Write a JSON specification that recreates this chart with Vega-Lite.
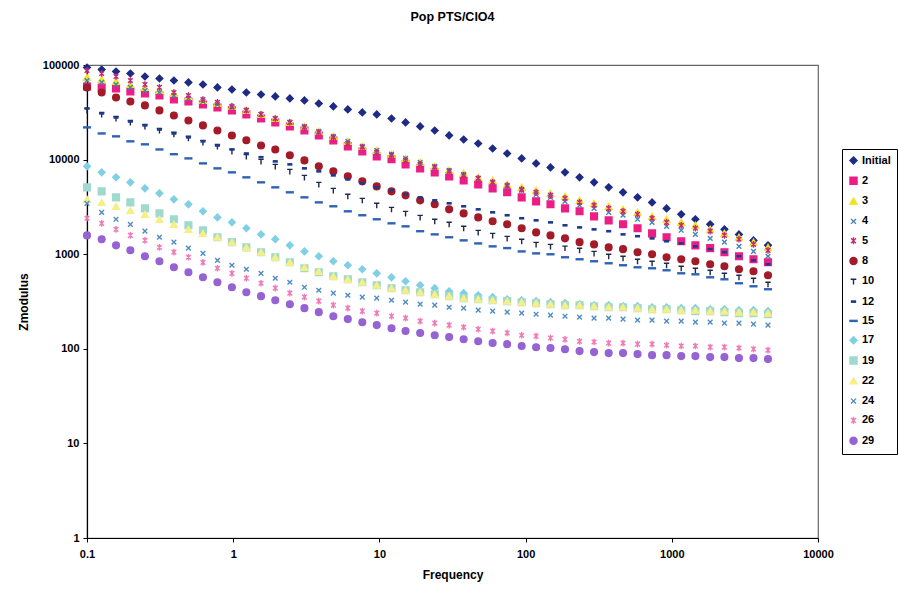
{
"$schema": "https://vega.github.io/schema/vega-lite/v6.json",
"width": 731, "height": 473,
"autosize": "none",
"padding": {"left": 87, "top": 65, "right": 80, "bottom": 54},
"background": "white",
"title": {"text": "Pop PTS/ClO4", "font": "Liberation Sans", "fontSize": 12.5, "fontWeight": "bold", "color": "black", "anchor": "middle", "offset": 36},
"datasets": {"pts": [
{"f":0.1,"s":"Initial","z":94100},{"f":0.126,"s":"Initial","z":89600},{"f":0.158,"s":"Initial","z":85400},{"f":0.198,"s":"Initial","z":81300},{"f":0.249,"s":"Initial","z":75600},{"f":0.313,"s":"Initial","z":72000},{"f":0.393,"s":"Initial","z":68600},{"f":0.494,"s":"Initial","z":65400},{"f":0.621,"s":"Initial","z":62200},{"f":0.78,"s":"Initial","z":57900},{"f":0.98,"s":"Initial","z":55100},{"f":1.23,"s":"Initial","z":51200},{"f":1.55,"s":"Initial","z":48800},{"f":1.94,"s":"Initial","z":46500},{"f":2.44,"s":"Initial","z":44300},{"f":3.07,"s":"Initial","z":42200},{"f":3.85,"s":"Initial","z":39200},{"f":4.84,"s":"Initial","z":36500},{"f":6.08,"s":"Initial","z":33900},{"f":7.64,"s":"Initial","z":31500},{"f":9.59,"s":"Initial","z":30000},{"f":12.1,"s":"Initial","z":27200},{"f":15.1,"s":"Initial","z":24700},{"f":19,"s":"Initial","z":22400},{"f":23.9,"s":"Initial","z":20300},{"f":30,"s":"Initial","z":18000},{"f":37.7,"s":"Initial","z":16300},{"f":47.4,"s":"Initial","z":14800},{"f":59.5,"s":"Initial","z":13100},{"f":74.8,"s":"Initial","z":11600},{"f":94,"s":"Initial","z":10300},{"f":118,"s":"Initial","z":9120},{"f":148,"s":"Initial","z":8270},{"f":186,"s":"Initial","z":7330},{"f":234,"s":"Initial","z":6490},{"f":294,"s":"Initial","z":5750},{"f":370,"s":"Initial","z":5090},{"f":464,"s":"Initial","z":4510},{"f":583,"s":"Initial","z":3990},{"f":733,"s":"Initial","z":3530},{"f":921,"s":"Initial","z":3050},{"f":1160,"s":"Initial","z":2640},{"f":1450,"s":"Initial","z":2340},{"f":1830,"s":"Initial","z":2070},{"f":2290,"s":"Initial","z":1830},{"f":2880,"s":"Initial","z":1620},{"f":3620,"s":"Initial","z":1400},{"f":4550,"s":"Initial","z":1240},
{"f":0.1,"s":"2","z":59300},{"f":0.126,"s":"2","z":57900},{"f":0.158,"s":"2","z":56500},{"f":0.198,"s":"2","z":52500},{"f":0.249,"s":"2","z":50000},{"f":0.313,"s":"2","z":47600},{"f":0.393,"s":"2","z":43200},{"f":0.494,"s":"2","z":41200},{"f":0.621,"s":"2","z":38300},{"f":0.78,"s":"2","z":35600},{"f":0.98,"s":"2","z":33100},{"f":1.23,"s":"2","z":30000},{"f":1.55,"s":"2","z":27200},{"f":1.94,"s":"2","z":24700},{"f":2.44,"s":"2","z":22400},{"f":3.07,"s":"2","z":20300},{"f":3.85,"s":"2","z":18000},{"f":4.84,"s":"2","z":15900},{"f":6.08,"s":"2","z":13800},{"f":7.64,"s":"2","z":12200},{"f":9.59,"s":"2","z":10800},{"f":12.1,"s":"2","z":10100},{"f":15.1,"s":"2","z":8900},{"f":19,"s":"2","z":8080},{"f":23.9,"s":"2","z":7330},{"f":30,"s":"2","z":6650},{"f":37.7,"s":"2","z":6030},{"f":47.4,"s":"2","z":5470},{"f":59.5,"s":"2","z":4970},{"f":74.8,"s":"2","z":4510},{"f":94,"s":"2","z":3990},{"f":118,"s":"2","z":3620},{"f":148,"s":"2","z":3370},{"f":186,"s":"2","z":3050},{"f":234,"s":"2","z":2840},{"f":294,"s":"2","z":2510},{"f":370,"s":"2","z":2280},{"f":464,"s":"2","z":2070},{"f":583,"s":"2","z":1880},{"f":733,"s":"2","z":1660},{"f":921,"s":"2","z":1510},{"f":1160,"s":"2","z":1370},{"f":1450,"s":"2","z":1240},{"f":1830,"s":"2","z":1160},{"f":2290,"s":"2","z":1050},{"f":2880,"s":"2","z":951},{"f":3620,"s":"2","z":884},{"f":4550,"s":"2","z":821},
{"f":0.1,"s":"3","z":73800},{"f":0.126,"s":"3","z":70300},{"f":0.158,"s":"3","z":67000},{"f":0.198,"s":"3","z":62200},{"f":0.249,"s":"3","z":57900},{"f":0.313,"s":"3","z":53800},{"f":0.393,"s":"3","z":50000},{"f":0.494,"s":"3","z":46500},{"f":0.621,"s":"3","z":42200},{"f":0.78,"s":"3","z":39200},{"f":0.98,"s":"3","z":36500},{"f":1.23,"s":"3","z":33100},{"f":1.55,"s":"3","z":30000},{"f":1.94,"s":"3","z":27200},{"f":2.44,"s":"3","z":24700},{"f":3.07,"s":"3","z":22400},{"f":3.85,"s":"3","z":19900},{"f":4.84,"s":"3","z":17600},{"f":6.08,"s":"3","z":15600},{"f":7.64,"s":"3","z":13800},{"f":9.59,"s":"3","z":12500},{"f":12.1,"s":"3","z":11400},{"f":15.1,"s":"3","z":10300},{"f":19,"s":"3","z":9340},{"f":23.9,"s":"3","z":8480},{"f":30,"s":"3","z":7690},{"f":37.7,"s":"3","z":7150},{"f":47.4,"s":"3","z":6490},{"f":59.5,"s":"3","z":6030},{"f":74.8,"s":"3","z":5470},{"f":94,"s":"3","z":5090},{"f":118,"s":"3","z":4730},{"f":148,"s":"3","z":4400},{"f":186,"s":"3","z":4090},{"f":234,"s":"3","z":3710},{"f":294,"s":"3","z":3450},{"f":370,"s":"3","z":3210},{"f":464,"s":"3","z":2980},{"f":583,"s":"3","z":2770},{"f":733,"s":"3","z":2510},{"f":921,"s":"3","z":2340},{"f":1160,"s":"3","z":2170},{"f":1450,"s":"3","z":2020},{"f":1830,"s":"3","z":1830},{"f":2290,"s":"3","z":1660},{"f":2880,"s":"3","z":1510},{"f":3620,"s":"3","z":1340},{"f":4550,"s":"3","z":1180},
{"f":0.1,"s":"4","z":68600},{"f":0.126,"s":"4","z":65400},{"f":0.158,"s":"4","z":62200},{"f":0.198,"s":"4","z":57900},{"f":0.249,"s":"4","z":53800},{"f":0.313,"s":"4","z":51200},{"f":0.393,"s":"4","z":47600},{"f":0.494,"s":"4","z":44300},{"f":0.621,"s":"4","z":41200},{"f":0.78,"s":"4","z":38300},{"f":0.98,"s":"4","z":35600},{"f":1.23,"s":"4","z":33100},{"f":1.55,"s":"4","z":30000},{"f":1.94,"s":"4","z":27200},{"f":2.44,"s":"4","z":24700},{"f":3.07,"s":"4","z":22400},{"f":3.85,"s":"4","z":19900},{"f":4.84,"s":"4","z":17600},{"f":6.08,"s":"4","z":15600},{"f":7.64,"s":"4","z":13800},{"f":9.59,"s":"4","z":12500},{"f":12.1,"s":"4","z":11400},{"f":15.1,"s":"4","z":10300},{"f":19,"s":"4","z":9340},{"f":23.9,"s":"4","z":8480},{"f":30,"s":"4","z":7690},{"f":37.7,"s":"4","z":6980},{"f":47.4,"s":"4","z":6330},{"f":59.5,"s":"4","z":5750},{"f":74.8,"s":"4","z":5210},{"f":94,"s":"4","z":4730},{"f":118,"s":"4","z":4290},{"f":148,"s":"4","z":3990},{"f":186,"s":"4","z":3620},{"f":234,"s":"4","z":3290},{"f":294,"s":"4","z":3050},{"f":370,"s":"4","z":2770},{"f":464,"s":"4","z":2580},{"f":583,"s":"4","z":2340},{"f":733,"s":"4","z":2170},{"f":921,"s":"4","z":1970},{"f":1160,"s":"4","z":1790},{"f":1450,"s":"4","z":1620},{"f":1830,"s":"4","z":1470},{"f":2290,"s":"4","z":1340},{"f":2880,"s":"4","z":1210},{"f":3620,"s":"4","z":1070},{"f":4550,"s":"4","z":951},
{"f":0.1,"s":"5","z":87500},{"f":0.126,"s":"5","z":81300},{"f":0.158,"s":"5","z":75600},{"f":0.198,"s":"5","z":68600},{"f":0.249,"s":"5","z":62200},{"f":0.313,"s":"5","z":57900},{"f":0.393,"s":"5","z":51200},{"f":0.494,"s":"5","z":47600},{"f":0.621,"s":"5","z":43200},{"f":0.78,"s":"5","z":40200},{"f":0.98,"s":"5","z":36500},{"f":1.23,"s":"5","z":33100},{"f":1.55,"s":"5","z":30000},{"f":1.94,"s":"5","z":27200},{"f":2.44,"s":"5","z":24700},{"f":3.07,"s":"5","z":21900},{"f":3.85,"s":"5","z":19400},{"f":4.84,"s":"5","z":17200},{"f":6.08,"s":"5","z":14800},{"f":7.64,"s":"5","z":13500},{"f":9.59,"s":"5","z":11900},{"f":12.1,"s":"5","z":11100},{"f":15.1,"s":"5","z":9810},{"f":19,"s":"5","z":8900},{"f":23.9,"s":"5","z":8270},{"f":30,"s":"5","z":7510},{"f":37.7,"s":"5","z":6810},{"f":47.4,"s":"5","z":6330},{"f":59.5,"s":"5","z":5750},{"f":74.8,"s":"5","z":5340},{"f":94,"s":"5","z":4850},{"f":118,"s":"5","z":4510},{"f":148,"s":"5","z":4190},{"f":186,"s":"5","z":3890},{"f":234,"s":"5","z":3530},{"f":294,"s":"5","z":3290},{"f":370,"s":"5","z":3050},{"f":464,"s":"5","z":2840},{"f":583,"s":"5","z":2640},{"f":733,"s":"5","z":2400},{"f":921,"s":"5","z":2170},{"f":1160,"s":"5","z":2020},{"f":1450,"s":"5","z":1880},{"f":1830,"s":"5","z":1750},{"f":2290,"s":"5","z":1580},{"f":2880,"s":"5","z":1440},{"f":3620,"s":"5","z":1270},{"f":4550,"s":"5","z":1100},
{"f":0.1,"s":"8","z":57900},{"f":0.126,"s":"8","z":51200},{"f":0.158,"s":"8","z":45400},{"f":0.198,"s":"8","z":41200},{"f":0.249,"s":"8","z":37400},{"f":0.313,"s":"8","z":33100},{"f":0.393,"s":"8","z":29300},{"f":0.494,"s":"8","z":25900},{"f":0.621,"s":"8","z":23000},{"f":0.78,"s":"8","z":20300},{"f":0.98,"s":"8","z":18000},{"f":1.23,"s":"8","z":16000},{"f":1.55,"s":"8","z":14100},{"f":1.94,"s":"8","z":12800},{"f":2.44,"s":"8","z":11100},{"f":3.07,"s":"8","z":9810},{"f":3.85,"s":"8","z":8480},{"f":4.84,"s":"8","z":7510},{"f":6.08,"s":"8","z":6650},{"f":7.64,"s":"8","z":5890},{"f":9.59,"s":"8","z":5210},{"f":12.1,"s":"8","z":4620},{"f":15.1,"s":"8","z":4190},{"f":19,"s":"8","z":3710},{"f":23.9,"s":"8","z":3370},{"f":30,"s":"8","z":2980},{"f":37.7,"s":"8","z":2700},{"f":47.4,"s":"8","z":2450},{"f":59.5,"s":"8","z":2230},{"f":74.8,"s":"8","z":2070},{"f":94,"s":"8","z":1880},{"f":118,"s":"8","z":1700},{"f":148,"s":"8","z":1580},{"f":186,"s":"8","z":1470},{"f":234,"s":"8","z":1340},{"f":294,"s":"8","z":1270},{"f":370,"s":"8","z":1180},{"f":464,"s":"8","z":1130},{"f":583,"s":"8","z":1050},{"f":733,"s":"8","z":998},{"f":921,"s":"8","z":928},{"f":1160,"s":"8","z":884},{"f":1450,"s":"8","z":842},{"f":1830,"s":"8","z":782},{"f":2290,"s":"8","z":745},{"f":2880,"s":"8","z":693},{"f":3620,"s":"8","z":660},{"f":4550,"s":"8","z":599},
{"f":0.1,"s":"10","z":33100},{"f":0.126,"s":"10","z":30000},{"f":0.158,"s":"10","z":27200},{"f":0.198,"s":"10","z":24700},{"f":0.249,"s":"10","z":22400},{"f":0.313,"s":"10","z":20300},{"f":0.393,"s":"10","z":18500},{"f":0.494,"s":"10","z":16800},{"f":0.621,"s":"10","z":15200},{"f":0.78,"s":"10","z":13800},{"f":0.98,"s":"10","z":12200},{"f":1.23,"s":"10","z":10800},{"f":1.55,"s":"10","z":9570},{"f":1.94,"s":"10","z":8480},{"f":2.44,"s":"10","z":7510},{"f":3.07,"s":"10","z":6490},{"f":3.85,"s":"10","z":5470},{"f":4.84,"s":"10","z":4730},{"f":6.08,"s":"10","z":4090},{"f":7.64,"s":"10","z":3710},{"f":9.59,"s":"10","z":3290},{"f":12.1,"s":"10","z":2980},{"f":15.1,"s":"10","z":2700},{"f":19,"s":"10","z":2450},{"f":23.9,"s":"10","z":2230},{"f":30,"s":"10","z":2070},{"f":37.7,"s":"10","z":1880},{"f":47.4,"s":"10","z":1700},{"f":59.5,"s":"10","z":1580},{"f":74.8,"s":"10","z":1470},{"f":94,"s":"10","z":1370},{"f":118,"s":"10","z":1270},{"f":148,"s":"10","z":1210},{"f":186,"s":"10","z":1160},{"f":234,"s":"10","z":1100},{"f":294,"s":"10","z":1020},{"f":370,"s":"10","z":951},{"f":464,"s":"10","z":905},{"f":583,"s":"10","z":842},{"f":733,"s":"10","z":802},{"f":921,"s":"10","z":764},{"f":1160,"s":"10","z":710},{"f":1450,"s":"10","z":676},{"f":1830,"s":"10","z":644},{"f":2290,"s":"10","z":599},{"f":2880,"s":"10","z":570},{"f":3620,"s":"10","z":530},{"f":4550,"s":"10","z":481},
{"f":0.1,"s":"12","z":34700},{"f":0.126,"s":"12","z":30800},{"f":0.158,"s":"12","z":27900},{"f":0.198,"s":"12","z":25300},{"f":0.249,"s":"12","z":23000},{"f":0.313,"s":"12","z":20800},{"f":0.393,"s":"12","z":18900},{"f":0.494,"s":"12","z":17200},{"f":0.621,"s":"12","z":15600},{"f":0.78,"s":"12","z":14100},{"f":0.98,"s":"12","z":12800},{"f":1.23,"s":"12","z":11600},{"f":1.55,"s":"12","z":10600},{"f":1.94,"s":"12","z":9570},{"f":2.44,"s":"12","z":8900},{"f":3.07,"s":"12","z":8080},{"f":3.85,"s":"12","z":7510},{"f":4.84,"s":"12","z":6810},{"f":6.08,"s":"12","z":6180},{"f":7.64,"s":"12","z":5610},{"f":9.59,"s":"12","z":5090},{"f":12.1,"s":"12","z":4730},{"f":15.1,"s":"12","z":4290},{"f":19,"s":"12","z":3990},{"f":23.9,"s":"12","z":3710},{"f":30,"s":"12","z":3450},{"f":37.7,"s":"12","z":3210},{"f":47.4,"s":"12","z":2980},{"f":59.5,"s":"12","z":2770},{"f":74.8,"s":"12","z":2580},{"f":94,"s":"12","z":2400},{"f":118,"s":"12","z":2280},{"f":148,"s":"12","z":2170},{"f":186,"s":"12","z":2020},{"f":234,"s":"12","z":1920},{"f":294,"s":"12","z":1830},{"f":370,"s":"12","z":1750},{"f":464,"s":"12","z":1620},{"f":583,"s":"12","z":1550},{"f":733,"s":"12","z":1470},{"f":921,"s":"12","z":1370},{"f":1160,"s":"12","z":1300},{"f":1450,"s":"12","z":1210},{"f":1830,"s":"12","z":1130},{"f":2290,"s":"12","z":1050},{"f":2880,"s":"12","z":951},{"f":3620,"s":"12","z":862},{"f":4550,"s":"12","z":782},
{"f":0.1,"s":"15","z":21900},{"f":0.126,"s":"15","z":18900},{"f":0.158,"s":"15","z":17600},{"f":0.198,"s":"15","z":15600},{"f":0.249,"s":"15","z":14500},{"f":0.313,"s":"15","z":12800},{"f":0.393,"s":"15","z":11400},{"f":0.494,"s":"15","z":10300},{"f":0.621,"s":"15","z":9120},{"f":0.78,"s":"15","z":8080},{"f":0.98,"s":"15","z":7330},{"f":1.23,"s":"15","z":6490},{"f":1.55,"s":"15","z":5750},{"f":1.94,"s":"15","z":5090},{"f":2.44,"s":"15","z":4510},{"f":3.07,"s":"15","z":3990},{"f":3.85,"s":"15","z":3530},{"f":4.84,"s":"15","z":3210},{"f":6.08,"s":"15","z":2840},{"f":7.64,"s":"15","z":2580},{"f":9.59,"s":"15","z":2340},{"f":12.1,"s":"15","z":2120},{"f":15.1,"s":"15","z":1970},{"f":19,"s":"15","z":1750},{"f":23.9,"s":"15","z":1620},{"f":30,"s":"15","z":1510},{"f":37.7,"s":"15","z":1400},{"f":47.4,"s":"15","z":1300},{"f":59.5,"s":"15","z":1210},{"f":74.8,"s":"15","z":1160},{"f":94,"s":"15","z":1070},{"f":118,"s":"15","z":1020},{"f":148,"s":"15","z":998},{"f":186,"s":"15","z":928},{"f":234,"s":"15","z":884},{"f":294,"s":"15","z":842},{"f":370,"s":"15","z":802},{"f":464,"s":"15","z":764},{"f":583,"s":"15","z":727},{"f":733,"s":"15","z":710},{"f":921,"s":"15","z":676},{"f":1160,"s":"15","z":628},{"f":1450,"s":"15","z":613},{"f":1830,"s":"15","z":570},{"f":2290,"s":"15","z":543},{"f":2880,"s":"15","z":493},{"f":3620,"s":"15","z":458},{"f":4550,"s":"15","z":426},
{"f":0.1,"s":"17","z":8480},{"f":0.126,"s":"17","z":7330},{"f":0.158,"s":"17","z":6490},{"f":0.198,"s":"17","z":5750},{"f":0.249,"s":"17","z":4970},{"f":0.313,"s":"17","z":4400},{"f":0.393,"s":"17","z":3800},{"f":0.494,"s":"17","z":3370},{"f":0.621,"s":"17","z":2840},{"f":0.78,"s":"17","z":2450},{"f":0.98,"s":"17","z":2170},{"f":1.23,"s":"17","z":1880},{"f":1.55,"s":"17","z":1620},{"f":1.94,"s":"17","z":1440},{"f":2.44,"s":"17","z":1240},{"f":3.07,"s":"17","z":1070},{"f":3.85,"s":"17","z":951},{"f":4.84,"s":"17","z":842},{"f":6.08,"s":"17","z":764},{"f":7.64,"s":"17","z":693},{"f":9.59,"s":"17","z":628},{"f":12.1,"s":"17","z":570},{"f":15.1,"s":"17","z":518},{"f":19,"s":"17","z":470},{"f":23.9,"s":"17","z":437},{"f":30,"s":"17","z":406},{"f":37.7,"s":"17","z":387},{"f":47.4,"s":"17","z":368},{"f":59.5,"s":"17","z":351},{"f":74.8,"s":"17","z":334},{"f":94,"s":"17","z":326},{"f":118,"s":"17","z":319},{"f":148,"s":"17","z":311},{"f":186,"s":"17","z":304},{"f":234,"s":"17","z":296},{"f":294,"s":"17","z":289},{"f":370,"s":"17","z":289},{"f":464,"s":"17","z":282},{"f":583,"s":"17","z":282},{"f":733,"s":"17","z":275},{"f":921,"s":"17","z":275},{"f":1160,"s":"17","z":269},{"f":1450,"s":"17","z":269},{"f":1830,"s":"17","z":262},{"f":2290,"s":"17","z":262},{"f":2880,"s":"17","z":256},{"f":3620,"s":"17","z":256},{"f":4550,"s":"17","z":250},
{"f":0.1,"s":"19","z":5090},{"f":0.126,"s":"19","z":4620},{"f":0.158,"s":"19","z":3990},{"f":0.198,"s":"19","z":3530},{"f":0.249,"s":"19","z":3050},{"f":0.313,"s":"19","z":2700},{"f":0.393,"s":"19","z":2340},{"f":0.494,"s":"19","z":2020},{"f":0.621,"s":"19","z":1790},{"f":0.78,"s":"19","z":1510},{"f":0.98,"s":"19","z":1340},{"f":1.23,"s":"19","z":1180},{"f":1.55,"s":"19","z":1050},{"f":1.94,"s":"19","z":928},{"f":2.44,"s":"19","z":821},{"f":3.07,"s":"19","z":710},{"f":3.85,"s":"19","z":644},{"f":4.84,"s":"19","z":584},{"f":6.08,"s":"19","z":543},{"f":7.64,"s":"19","z":505},{"f":9.59,"s":"19","z":470},{"f":12.1,"s":"19","z":437},{"f":15.1,"s":"19","z":416},{"f":19,"s":"19","z":396},{"f":23.9,"s":"19","z":377},{"f":30,"s":"19","z":360},{"f":37.7,"s":"19","z":343},{"f":47.4,"s":"19","z":334},{"f":59.5,"s":"19","z":326},{"f":74.8,"s":"19","z":319},{"f":94,"s":"19","z":311},{"f":118,"s":"19","z":304},{"f":148,"s":"19","z":296},{"f":186,"s":"19","z":289},{"f":234,"s":"19","z":289},{"f":294,"s":"19","z":282},{"f":370,"s":"19","z":275},{"f":464,"s":"19","z":275},{"f":583,"s":"19","z":269},{"f":733,"s":"19","z":262},{"f":921,"s":"19","z":262},{"f":1160,"s":"19","z":256},{"f":1450,"s":"19","z":250},{"f":1830,"s":"19","z":250},{"f":2290,"s":"19","z":244},{"f":2880,"s":"19","z":238},{"f":3620,"s":"19","z":238},{"f":4550,"s":"19","z":232},
{"f":0.1,"s":"22","z":3800},{"f":0.126,"s":"22","z":3530},{"f":0.158,"s":"22","z":3210},{"f":0.198,"s":"22","z":2910},{"f":0.249,"s":"22","z":2640},{"f":0.313,"s":"22","z":2340},{"f":0.393,"s":"22","z":2070},{"f":0.494,"s":"22","z":1830},{"f":0.621,"s":"22","z":1660},{"f":0.78,"s":"22","z":1510},{"f":0.98,"s":"22","z":1340},{"f":1.23,"s":"22","z":1180},{"f":1.55,"s":"22","z":1050},{"f":1.94,"s":"22","z":928},{"f":2.44,"s":"22","z":821},{"f":3.07,"s":"22","z":727},{"f":3.85,"s":"22","z":660},{"f":4.84,"s":"22","z":584},{"f":6.08,"s":"22","z":543},{"f":7.64,"s":"22","z":505},{"f":9.59,"s":"22","z":470},{"f":12.1,"s":"22","z":437},{"f":15.1,"s":"22","z":416},{"f":19,"s":"22","z":396},{"f":23.9,"s":"22","z":377},{"f":30,"s":"22","z":360},{"f":37.7,"s":"22","z":343},{"f":47.4,"s":"22","z":334},{"f":59.5,"s":"22","z":326},{"f":74.8,"s":"22","z":319},{"f":94,"s":"22","z":311},{"f":118,"s":"22","z":304},{"f":148,"s":"22","z":296},{"f":186,"s":"22","z":289},{"f":234,"s":"22","z":289},{"f":294,"s":"22","z":282},{"f":370,"s":"22","z":275},{"f":464,"s":"22","z":275},{"f":583,"s":"22","z":269},{"f":733,"s":"22","z":262},{"f":921,"s":"22","z":262},{"f":1160,"s":"22","z":256},{"f":1450,"s":"22","z":256},{"f":1830,"s":"22","z":250},{"f":2290,"s":"22","z":250},{"f":2880,"s":"22","z":244},{"f":3620,"s":"22","z":244},{"f":4550,"s":"22","z":238},
{"f":0.1,"s":"24","z":3450},{"f":0.126,"s":"24","z":2770},{"f":0.158,"s":"24","z":2340},{"f":0.198,"s":"24","z":2070},{"f":0.249,"s":"24","z":1750},{"f":0.313,"s":"24","z":1510},{"f":0.393,"s":"24","z":1340},{"f":0.494,"s":"24","z":1160},{"f":0.621,"s":"24","z":1020},{"f":0.78,"s":"24","z":862},{"f":0.98,"s":"24","z":764},{"f":1.23,"s":"24","z":693},{"f":1.55,"s":"24","z":628},{"f":1.94,"s":"24","z":557},{"f":2.44,"s":"24","z":505},{"f":3.07,"s":"24","z":447},{"f":3.85,"s":"24","z":416},{"f":4.84,"s":"24","z":387},{"f":6.08,"s":"24","z":368},{"f":7.64,"s":"24","z":351},{"f":9.59,"s":"24","z":343},{"f":12.1,"s":"24","z":326},{"f":15.1,"s":"24","z":311},{"f":19,"s":"24","z":296},{"f":23.9,"s":"24","z":289},{"f":30,"s":"24","z":275},{"f":37.7,"s":"24","z":269},{"f":47.4,"s":"24","z":256},{"f":59.5,"s":"24","z":250},{"f":74.8,"s":"24","z":244},{"f":94,"s":"24","z":238},{"f":118,"s":"24","z":232},{"f":148,"s":"24","z":227},{"f":186,"s":"24","z":221},{"f":234,"s":"24","z":216},{"f":294,"s":"24","z":211},{"f":370,"s":"24","z":211},{"f":464,"s":"24","z":206},{"f":583,"s":"24","z":201},{"f":733,"s":"24","z":201},{"f":921,"s":"24","z":196},{"f":1160,"s":"24","z":196},{"f":1450,"s":"24","z":191},{"f":1830,"s":"24","z":191},{"f":2290,"s":"24","z":187},{"f":2880,"s":"24","z":187},{"f":3620,"s":"24","z":182},{"f":4550,"s":"24","z":178},
{"f":0.1,"s":"26","z":2400},{"f":0.126,"s":"26","z":2120},{"f":0.158,"s":"26","z":1830},{"f":0.198,"s":"26","z":1580},{"f":0.249,"s":"26","z":1400},{"f":0.313,"s":"26","z":1180},{"f":0.393,"s":"26","z":1050},{"f":0.494,"s":"26","z":928},{"f":0.621,"s":"26","z":821},{"f":0.78,"s":"26","z":710},{"f":0.98,"s":"26","z":628},{"f":1.23,"s":"26","z":557},{"f":1.55,"s":"26","z":493},{"f":1.94,"s":"26","z":437},{"f":2.44,"s":"26","z":387},{"f":3.07,"s":"26","z":351},{"f":3.85,"s":"26","z":319},{"f":4.84,"s":"26","z":289},{"f":6.08,"s":"26","z":269},{"f":7.64,"s":"26","z":250},{"f":9.59,"s":"26","z":238},{"f":12.1,"s":"26","z":221},{"f":15.1,"s":"26","z":211},{"f":19,"s":"26","z":196},{"f":23.9,"s":"26","z":187},{"f":30,"s":"26","z":178},{"f":37.7,"s":"26","z":169},{"f":47.4,"s":"26","z":161},{"f":59.5,"s":"26","z":154},{"f":74.8,"s":"26","z":147},{"f":94,"s":"26","z":139},{"f":118,"s":"26","z":136},{"f":148,"s":"26","z":130},{"f":186,"s":"26","z":126},{"f":234,"s":"26","z":120},{"f":294,"s":"26","z":118},{"f":370,"s":"26","z":115},{"f":464,"s":"26","z":115},{"f":583,"s":"26","z":112},{"f":733,"s":"26","z":112},{"f":921,"s":"26","z":109},{"f":1160,"s":"26","z":107},{"f":1450,"s":"26","z":107},{"f":1830,"s":"26","z":104},{"f":2290,"s":"26","z":104},{"f":2880,"s":"26","z":102},{"f":3620,"s":"26","z":99},{"f":4550,"s":"26","z":97},
{"f":0.1,"s":"29","z":1580},{"f":0.126,"s":"29","z":1440},{"f":0.158,"s":"29","z":1240},{"f":0.198,"s":"29","z":1100},{"f":0.249,"s":"29","z":951},{"f":0.313,"s":"29","z":842},{"f":0.393,"s":"29","z":727},{"f":0.494,"s":"29","z":644},{"f":0.621,"s":"29","z":570},{"f":0.78,"s":"29","z":505},{"f":0.98,"s":"29","z":447},{"f":1.23,"s":"29","z":396},{"f":1.55,"s":"29","z":360},{"f":1.94,"s":"29","z":326},{"f":2.44,"s":"29","z":296},{"f":3.07,"s":"29","z":269},{"f":3.85,"s":"29","z":244},{"f":4.84,"s":"29","z":221},{"f":6.08,"s":"29","z":206},{"f":7.64,"s":"29","z":191},{"f":9.59,"s":"29","z":178},{"f":12.1,"s":"29","z":165},{"f":15.1,"s":"29","z":154},{"f":19,"s":"29","z":147},{"f":23.9,"s":"29","z":139},{"f":30,"s":"29","z":133},{"f":37.7,"s":"29","z":126},{"f":47.4,"s":"29","z":120},{"f":59.5,"s":"29","z":115},{"f":74.8,"s":"29","z":112},{"f":94,"s":"29","z":107},{"f":118,"s":"29","z":104},{"f":148,"s":"29","z":102},{"f":186,"s":"29","z":99},{"f":234,"s":"29","z":94.6},{"f":294,"s":"29","z":92.3},{"f":370,"s":"29","z":90.1},{"f":464,"s":"29","z":90.1},{"f":583,"s":"29","z":87.9},{"f":733,"s":"29","z":85.7},{"f":921,"s":"29","z":85.7},{"f":1160,"s":"29","z":83.7},{"f":1450,"s":"29","z":83.7},{"f":1830,"s":"29","z":81.7},{"f":2290,"s":"29","z":81.7},{"f":2880,"s":"29","z":79.7},{"f":3620,"s":"29","z":79.7},{"f":4550,"s":"29","z":77.8}
]},
"data": {"name": "pts"},
"mark": {"type": "point", "filled": true, "size": 45, "strokeWidth": 1.4, "opacity": 1},
"encoding": {
  "x": {"field": "f", "type": "quantitative", "scale": {"type": "log", "domain": [0.1, 10000], "nice": false},
        "axis": {"title": "Frequency", "values": [0.1, 1, 10, 100, 1000, 10000], "format": "~g", "grid": false, "labelPadding": 6, "titlePadding": 10, "labelFlush": false}},
  "y": {"field": "z", "type": "quantitative", "scale": {"type": "log", "domain": [1, 100000], "nice": false},
        "axis": {"title": "Zmodulus", "values": [1, 10, 100, 1000, 10000, 100000], "format": "~g", "grid": false, "labelPadding": 4, "titlePadding": 12, "labelFlush": false}},
  "fill": {"field": "s", "type": "nominal",
    "scale": {"domain": ["Initial","2","3","4","5","8","10","12","15","17","19","22","24","26","29"],
              "range": ["#1d2b84","#ec1e86","#f2e21c","#3f86b8","#c42a78","#a31b28","#1e2a48","#1c3a8e","#2f64b4","#7fd0e4","#9fd9cf","#f6ef86","#4f8cc4","#f07ab8","#9563d3"]},
    "legend": {"title": null, "orient": "none", "legendX": 755, "legendY": 84, "strokeColor": "black", "fillColor": "white", "padding": 6, "labelFont": "Liberation Sans", "labelFontSize": 11, "labelFontWeight": "bold", "labelColor": "black", "labelOffset": 3, "symbolSize": 50, "symbolStrokeWidth": 1.4, "rowPadding": 7.3}},
  "stroke": {"field": "s", "type": "nominal",
    "scale": {"domain": ["Initial","2","3","4","5","8","10","12","15","17","19","22","24","26","29"],
              "range": ["#1d2b84","#ec1e86","#f2e21c","#3f86b8","#c42a78","#a31b28","#1e2a48","#1c3a8e","#2f64b4","#7fd0e4","#9fd9cf","#f6ef86","#4f8cc4","#f07ab8","#9563d3"]},
    "legend": {"title": null, "orient": "none", "legendX": 755, "legendY": 84, "strokeColor": "black", "fillColor": "white", "padding": 6, "labelFont": "Liberation Sans", "labelFontSize": 11, "labelFontWeight": "bold", "labelColor": "black", "labelOffset": 3, "symbolSize": 50, "symbolStrokeWidth": 1.4, "rowPadding": 7.3}},
  "shape": {"field": "s", "type": "nominal",
    "scale": {"domain": ["Initial","2","3","4","5","8","10","12","15","17","19","22","24","26","29"],
              "range": ["diamond","square","triangle-up","M-0.7,-0.7L0.7,0.7M-0.7,0.7L0.7,-0.7","M-0.7,-0.7L0.7,0.7M-0.7,0.7L0.7,-0.7M0,-1L0,1","circle","M-0.8,-0.6L0.8,-0.6M0,-0.6L0,0.9","M-0.55,-0.18L0.55,-0.18L0.55,0.18L-0.55,0.18Z","M-1,-0.15L1,-0.15L1,0.15L-1,0.15Z","diamond","square","triangle-up","M-0.7,-0.7L0.7,0.7M-0.7,0.7L0.7,-0.7","M-0.7,-0.7L0.7,0.7M-0.7,0.7L0.7,-0.7M0,-1L0,1","circle"]},
    "legend": {"title": null, "orient": "none", "legendX": 755, "legendY": 84, "strokeColor": "black", "fillColor": "white", "padding": 6, "labelFont": "Liberation Sans", "labelFontSize": 11, "labelFontWeight": "bold", "labelColor": "black", "labelOffset": 3, "symbolSize": 50, "symbolStrokeWidth": 1.4, "rowPadding": 7.3}}
},
"config": {
  "font": "Liberation Sans",
  "view": {"stroke": "#666666", "strokeWidth": 1.2},
  "axis": {"domainColor": "black", "domainWidth": 1.2, "tickColor": "black", "tickSize": 4, "tickWidth": 1,
           "labelFont": "Liberation Sans", "labelFontSize": 11, "labelFontWeight": "bold", "labelColor": "black",
           "titleFont": "Liberation Sans", "titleFontSize": 12, "titleFontWeight": "bold", "titleColor": "black"}
}
}
